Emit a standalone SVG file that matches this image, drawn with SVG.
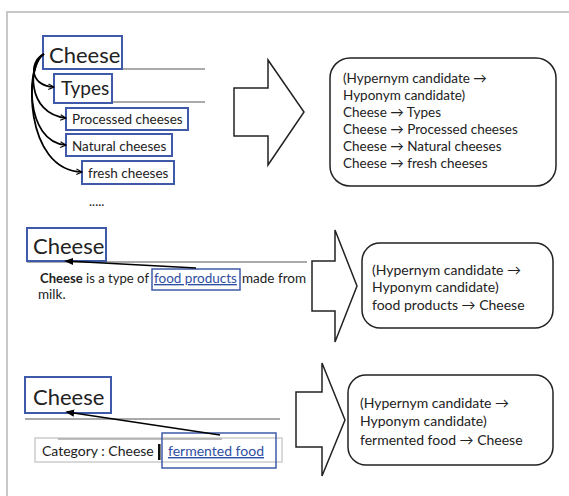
<svg xmlns="http://www.w3.org/2000/svg" width="569" height="496" viewBox="0 0 569 496">
<defs>
<marker id="ah" viewBox="0 0 10 10" refX="9" refY="5" markerWidth="7" markerHeight="7" orient="auto" markerUnits="userSpaceOnUse">
<path d="M1,1 L9,5 L1,9" fill="none" stroke="#000" stroke-width="1.6"/>
</marker>
<marker id="ah2" viewBox="0 0 10 10" refX="8" refY="5" markerWidth="9" markerHeight="9" orient="auto" markerUnits="userSpaceOnUse">
<path d="M0,1 L10,5 L0,9 Z" fill="#000"/>
</marker>
</defs>
<style>
text{font-family:Lato,"Open Sans","Liberation Sans",sans-serif;fill:#222}
.bx{fill:#fff;stroke:#3f5aa8;stroke-width:2}
.hl{fill:none;stroke:#3f5aa8;stroke-width:1.5}
.gl{stroke:#aaa;stroke-width:2}
.big{fill:#fff;stroke:#222;stroke-width:1.5}
.rb{fill:#fff;stroke:#222;stroke-width:1.5}
.cur{fill:none;stroke:#000;stroke-width:1.7}
.h1{font-size:22px}
.t{font-size:13.5px}
.lnk{fill:#2f4ea2;text-decoration:underline}
</style>
<rect width="569" height="496" fill="#fff"/>
<path d="M7,496 V12 H569" fill="none" stroke="#c8c8c8" stroke-width="2"/>

<!-- Section 1 -->
<line class="gl" x1="122" y1="69" x2="205" y2="69"/>
<line class="gl" x1="112" y1="102" x2="205" y2="102"/>
<g id="n-cheese1"><rect class="bx" x="43" y="36" width="79" height="33"/><text class="h1" x="49" y="63">Cheese</text></g>
<g id="n-types"><rect class="bx" x="54" y="74" width="58" height="29"/><text x="61" y="95" font-size="19">Types</text></g>
<g id="n-processed"><rect class="bx" x="66" y="108" width="122" height="22"/><text class="t" x="72" y="124">Processed cheeses</text></g>
<g id="n-natural"><rect class="bx" x="66" y="134" width="106" height="22"/><text class="t" x="72" y="151">Natural cheeses</text></g>
<g id="n-fresh"><rect class="bx" x="82" y="161" width="92" height="23"/><text class="t" x="88" y="178">fresh cheeses</text></g>
<text x="89" y="206" font-size="13">.....</text>
<g id="arrow1"><path class="big" d="M234,88 H268 V60 L304,112 L268,165 V136 H234 Z"/></g>
<g id="r1"><rect class="rb" x="330" y="58" width="226" height="128" rx="20"/>
<text class="t" x="343" y="83">(Hypernym candidate →</text>
<text class="t" x="343" y="100">Hyponym candidate)</text>
<text class="t" x="343" y="117">Cheese → Types</text>
<text class="t" x="343" y="134">Cheese → Processed cheeses</text>
<text class="t" x="343" y="151">Cheese → Natural cheeses</text>
<text class="t" x="343" y="168">Cheese → fresh cheeses</text></g>

<!-- Section 2 -->
<line class="gl" x1="27" y1="262" x2="307" y2="262"/>
<g id="n-cheese2"><rect class="bx" x="27" y="228" width="79" height="33"/><text class="h1" x="33" y="254">Cheese</text></g>
<g id="n-sent"><text class="t" x="40" y="283" textLength="109" lengthAdjust="spacingAndGlyphs"><tspan font-weight="bold">Cheese</tspan> is a type of</text>
<text class="t lnk" x="154" y="283">food products</text>
<text class="t" x="242" y="283">made from</text>
<text class="t" x="38" y="299">milk.</text>
<rect class="hl" x="152" y="269" width="88" height="21"/></g>
<g id="arrow2"><path class="big" d="M312,261 H335 V230 L357,286 L335,342 V311 H312 Z"/></g>
<g id="r2"><rect class="rb" x="362" y="243" width="191" height="85" rx="18"/>
<text x="372" y="275" font-size="14">(Hypernym candidate →</text>
<text x="372" y="292" font-size="14">Hyponym candidate)</text>
<text x="372" y="310" font-size="14">food products → Cheese</text></g>

<!-- Section 3 -->
<line class="gl" x1="25" y1="419" x2="280" y2="419"/>
<g id="n-cheese3"><rect class="bx" x="25" y="377" width="86" height="36"/><text class="h1" x="33" y="405">Cheese</text></g>
<g id="n-cat"><rect x="35" y="438" width="247" height="24" fill="#fff" stroke="#ccc" stroke-width="1.5"/>
<line x1="58" y1="439" x2="222" y2="439" stroke="#aaa" stroke-width="1.5"/>
<text x="42" y="456" font-size="14">Category : Cheese</text>
<rect x="158" y="444" width="2.5" height="16" fill="#111"/>
<text class="lnk" x="168" y="456" font-size="14">fermented food</text>
<rect class="hl" x="162" y="433" width="114" height="35"/></g>
<g id="arrow3"><path class="big" d="M296,392 H322 V363 L345,420 L322,476 V447 H296 Z"/></g>
<g id="r3"><rect class="rb" x="348" y="375" width="205" height="90" rx="18"/>
<text x="360" y="408" font-size="14">(Hypernym candidate →</text>
<text x="360" y="426" font-size="14">Hyponym candidate)</text>
<text x="360" y="445" font-size="14">fermented food → Cheese</text></g>

<!-- connectors -->
<g id="connectors">
<path class="cur" marker-end="url(#ah)" d="M44,54 C30,60 28,86 54,87"/>
<path class="cur" marker-end="url(#ah)" d="M44,54 C28,62 26,114 66,118"/>
<path class="cur" marker-end="url(#ah)" d="M44,54 C26,64 24,142 66,145"/>
<path class="cur" marker-end="url(#ah)" d="M44,54 C24,66 24,170 82,172"/>
<line stroke="#000" stroke-width="1.5" marker-end="url(#ah2)" x1="196" y1="268" x2="66" y2="261"/>
<line stroke="#000" stroke-width="1.5" marker-end="url(#ah2)" x1="220" y1="435" x2="67" y2="412"/>
</g>
</svg>
